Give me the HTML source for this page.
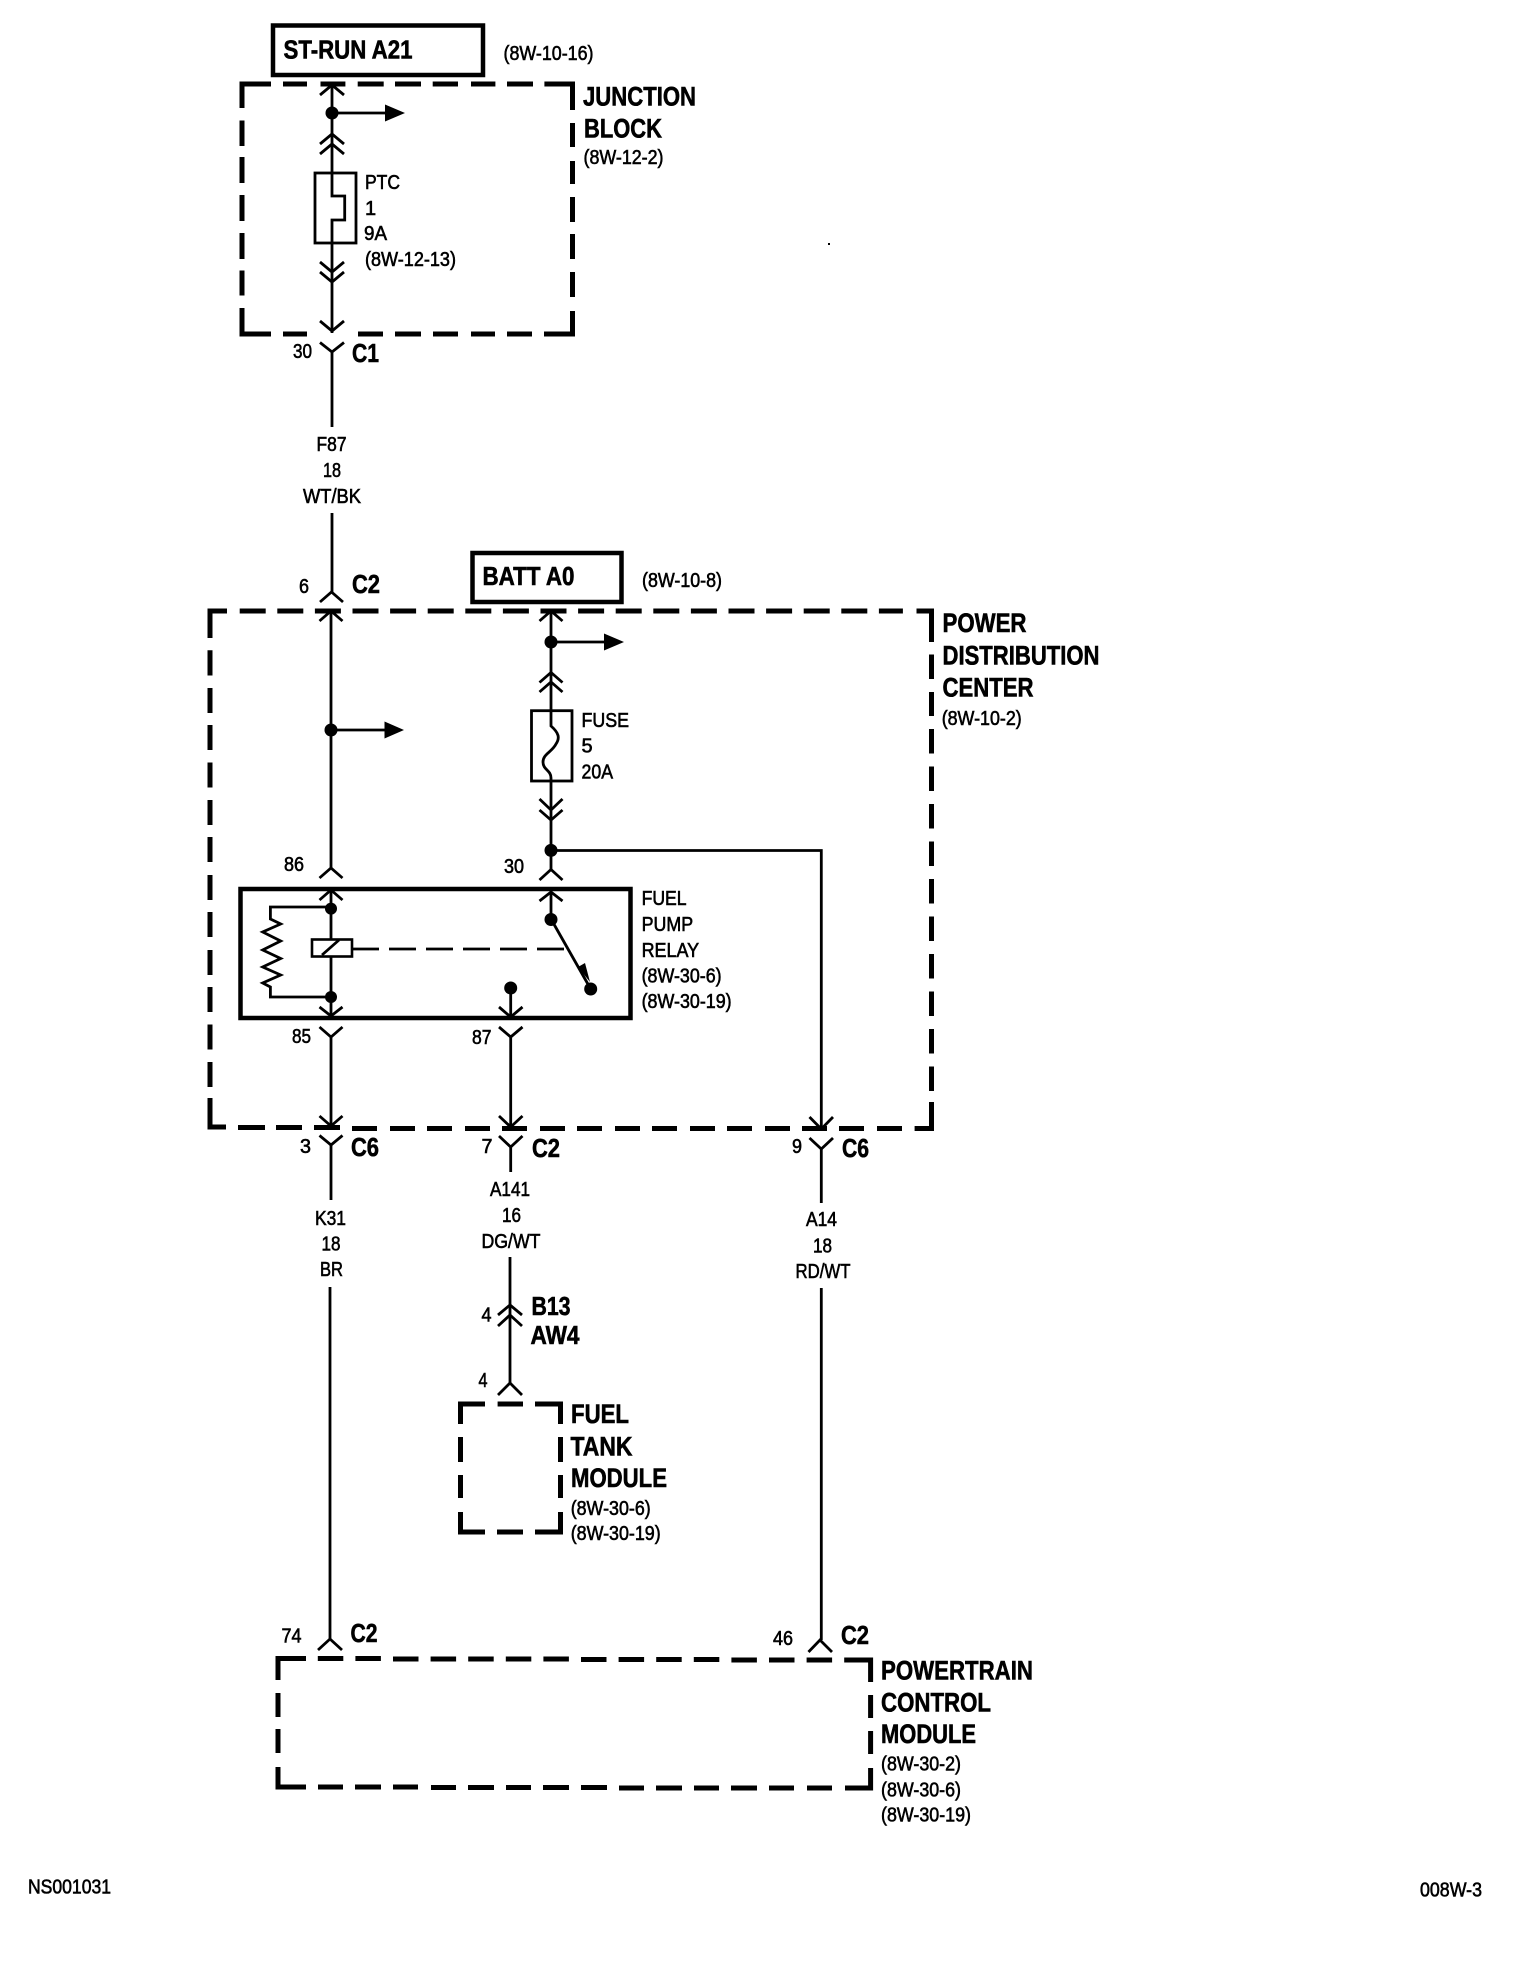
<!DOCTYPE html>
<html lang="en">
<head>
<meta charset="utf-8">
<title>Fuel Pump Relay Circuit</title>
<style>
html,body{margin:0;padding:0;background:#fff;width:1536px;height:1978px;overflow:hidden}
svg{display:block}
.w{fill:none;stroke:#000;stroke-width:2.8}
.b{fill:none;stroke:#000;stroke-width:5}
text{font-family:"Liberation Sans",sans-serif;fill:#000}
.r{font-size:20px;stroke:#000;stroke-width:.6}
.h{font-size:27px;font-weight:700;stroke:#000;stroke-width:.6}
.c{font-size:26px;font-weight:700;stroke:#000;stroke-width:.6}
</style>
</head>
<body>
<svg xmlns="http://www.w3.org/2000/svg" width="1536" height="1978" viewBox="0 0 1536 1978">
<rect width="1536" height="1978" fill="#fff"/>

<!-- solid boxes -->
<rect x="273" y="25.5" width="210" height="49.5" fill="none" stroke="#000" stroke-width="4.5"/>
<rect x="472.500" y="553" width="149" height="49" fill="none" stroke="#000" stroke-width="4.5"/>
<rect x="240.500" y="889" width="390" height="129" fill="none" stroke="#000" stroke-width="4.5"/>

<!-- Junction block dashed -->
<path class="b" d="M242 108V84H271M283 84H307M320.5 84H345.4M357.7 84H383.7M395 84H421M432.7 84H458M471 84H495.4M507 84H533M544.4 84H572.5V110M572.5 123V147M572.5 161V184M572.5 197V222M572.5 234V259M572.5 272V297M572.5 311V334H544M532 334H507M495 334H471M458 334H433M421 334H395M383 334H358M307 334H283M271 334H242V308M242 295.5V270.5M242 259V233M242 221V195M242 183V157M242 146V120.5"/>

<!-- PDC dashed -->
<path class="b" d="M210 638V611H227M239.7 611H265.7M277.3 611H303.3M314.9 611H340.9M352.5 611H378.5M390.1 611H416.1M427.7 611H453.7M465.3 611H491.3M502.9 611H528.9M540.5 611H566.5M578.1 611H604.1M615.7 611H641.7M653.3 611H679.3M690.9 611H716.9M728.5 611H754.5M766.1 611H792.1M803.7 611H829.7M841.3 611H867.3M878.9 611H902.9M916.5 611H931.5V642M931.5 654.5V679M931.5 692V716M931.5 729V753.5M931.5 766.5V791M931.5 804V828.5M931.5 841.5V866M931.5 879V903.5M931.5 916.5V941M931.5 954V978.5M931.5 991.5V1016M931.5 1029V1053.5M931.5 1066.5V1091M931.5 1102V1128.5H914.6M902 1128.5H877M864 1128.5H839M827 1128.5H802M790 1128.5H765M752 1128.5H727M715 1128.5H690M677 1128.5H652M640 1128.5H615M602 1128.5H577M565 1128.5H540M527 1128.5H502M490 1128.5H465M452 1128.5H427M415 1128.5H390M377 1128.5H352M340 1127.5H314M302 1127.5H276M265 1127.5H238M226 1127H210V1098M210 1087V1062M210 1049.5V1024.5M210 1012V987M210 975V950M210 937V912M210 900V875M210 862V837M210 825V800M210 787.5V762.5M210 750V725M210 713V688M210 675.5V650.3"/>

<!-- Fuel tank dashed -->
<path class="b" d="M460.5 1424V1404H485M497.6 1404H523M535 1404H560.5V1424M560.5 1437V1462M560.5 1475V1498M560.5 1512V1532H535M523 1532H497M485 1532H460.5V1512M460.5 1498V1475M460.5 1462V1437"/>

<!-- PCM dashed -->
<path class="b" d="M278 1680V1658.5H306M317.8 1658.5H343.3M355.4 1658.5H380.9M393 1659H418.5M430.6 1659H456.1M468.2 1659H493.7M505.8 1659H531.3M543.4 1659H568.9M581 1659.5H606.5M618.6 1659.5H644.1M656.2 1659.5H681.7M693.8 1659.5H719.3M731.4 1660H756.9M769 1660H794.5M806.6 1660H832.1M844.2 1660H870.6V1682M870.6 1695V1718M870.6 1731V1754M870.6 1768V1788H845M832 1788H807M794 1788H769M757 1788H731M719 1788H694M682 1788H656M644 1788H619M607 1787.5H581M569 1787.5H543M531 1787.5H506M494 1787.5H468M456 1787.5H431M418 1787H393M381 1787H355M343 1787H318M306 1787H278V1767M278 1753V1729M278 1717V1693"/>

<!-- Wires: left top -->
<path class="w" d="M332 84V173M332 144V196H344.7V220H332V243V333M332 352V427M332 513V592"/>
<rect class="w" x="315" y="173" width="41" height="70"/>
<path class="w" d="M320 95L332 85L344 95M320 144L332 134L344 144M320 154L332 144L344 154M320 262L332 272L344 262M320 272L332 282L344 272M320 321L332 331L344 321M320 342.5L332 352L344 342.5"/>
<path class="w" d="M320 602L331.5 592L343 602"/>
<circle cx="332" cy="113" r="6.5"/>
<path class="w" d="M332 113H386"/>
<path d="M385 104.5L405 113L385 121.5Z"/>

<!-- Wire 86 / 85 -->
<path class="w" d="M331 611V868M331 890V1016M331 1037V1126M331 1145V1200M330 1287V1639"/>
<path class="w" d="M319.5 621L331 611L342.5 621M319.5 878L331 868L342.5 878M319.5 900L331 890L342.5 900M319.5 1007L331 1016L342.5 1007M319.5 1027L331 1037L342.5 1027M319.5 1116L331 1126L342.5 1116M319.5 1135.5L331 1145L342.5 1135.5M318 1650L330 1639L342 1650"/>
<circle cx="331" cy="730" r="6.5"/>
<path class="w" d="M331 730H386"/>
<path d="M384.5 721.5L404 730L384.5 738.5Z"/>
<circle cx="331" cy="908.6" r="6"/>
<circle cx="331" cy="997" r="6"/>
<rect x="312" y="939.5" width="40" height="17" fill="#fff" stroke="#000" stroke-width="2.6"/>
<path class="w" d="M322 955L339 940"/>
<path class="w" d="M331 907H270.4V919L280.7 924L262.7 932L280.7 941L262.7 950L280.7 958.5L262.7 967L280.7 975L262.7 983L270.4 987V997H331"/>
<path class="w" d="M352 949H567" stroke-dasharray="27 10"/>

<!-- Wire 30 / fuse -->
<path class="w" d="M551 611V711M551 711V726C559 733 560 738 556 744C552 752 543 754 543 762C543 770 551 770 551 778V820V869M551 892V919M551 919L590.7 989"/>
<rect class="w" x="531.5" y="710.7" width="40.5" height="70.3"/>
<path class="w" d="M539.5 621L551 611L562.5 621M539.5 682.5L551 672.5L562.5 682.5M539.5 692L551 682L562.5 692M539.5 799L551 810L562.5 799M539.5 810L551 820L562.5 810M539.5 880L551 869.5L562.5 880M539.5 901L551 892L562.5 901"/>
<circle cx="551" cy="642" r="6.5"/>
<path class="w" d="M551 642H606"/>
<path d="M604 633.5L624 642L604 650.5Z"/>
<circle cx="551" cy="850.4" r="6.5"/>
<path class="w" d="M551 850.5H821.3V1129M821.3 1149V1203M821.3 1288V1640"/>
<path class="w" d="M809.5 1117L821.3 1129L833 1117M809.5 1138L821.3 1149L833 1138M808.5 1652L820 1640L832 1652"/>
<circle cx="551" cy="919.5" r="6.5"/>
<circle cx="590.7" cy="989" r="6.5"/>
<path d="M578 967L585 963L590 982Z"/>

<!-- Wire 87 -->
<circle cx="510.7" cy="988" r="6.5"/>
<path class="w" d="M510.7 988V1017M510.7 1037V1127M510.7 1147V1172M510 1257V1383"/>
<path class="w" d="M499 1007L510.7 1017L522.5 1007M499 1027L510.7 1037L522.5 1027M499 1116L510.7 1127L522.5 1116M499 1136L510.7 1147L522.5 1136M498 1315L510 1305L522 1315M498 1326L510 1315L522 1326M498 1395L510 1383L522 1395"/>

<!-- speck -->
<rect x="828" y="243" width="2" height="2"/>

<!-- Header labels -->
<text class="c" x="283.5" y="58.5" textLength="129" lengthAdjust="spacingAndGlyphs">ST-RUN A21</text>
<text class="r" x="503.5" y="60" textLength="90" lengthAdjust="spacingAndGlyphs">(8W-10-16)</text>
<text class="h" x="583" y="105.5" textLength="113" lengthAdjust="spacingAndGlyphs">JUNCTION</text>
<text class="h" x="584" y="137.5" textLength="78" lengthAdjust="spacingAndGlyphs">BLOCK</text>
<text class="r" x="583.5" y="164" textLength="80" lengthAdjust="spacingAndGlyphs">(8W-12-2)</text>
<text class="r" x="365" y="189" textLength="35" lengthAdjust="spacingAndGlyphs">PTC</text>
<text class="r" x="365" y="215">1</text>
<text class="r" x="364" y="240" textLength="23" lengthAdjust="spacingAndGlyphs">9A</text>
<text class="r" x="365" y="266" textLength="91" lengthAdjust="spacingAndGlyphs">(8W-12-13)</text>
<text class="r" x="293" y="358" textLength="19" lengthAdjust="spacingAndGlyphs">30</text>
<text class="c" x="352" y="362" textLength="27" lengthAdjust="spacingAndGlyphs">C1</text>
<text class="r" x="331.5" y="451" text-anchor="middle" textLength="30" lengthAdjust="spacingAndGlyphs">F87</text>
<text class="r" x="332" y="477" text-anchor="middle" textLength="18" lengthAdjust="spacingAndGlyphs">18</text>
<text class="r" x="332" y="503" text-anchor="middle" textLength="58" lengthAdjust="spacingAndGlyphs">WT/BK</text>

<text class="r" x="299" y="593" textLength="10" lengthAdjust="spacingAndGlyphs">6</text>
<text class="c" x="352" y="593" textLength="28" lengthAdjust="spacingAndGlyphs">C2</text>
<text class="c" x="482.5" y="585" textLength="92" lengthAdjust="spacingAndGlyphs">BATT A0</text>
<text class="r" x="642" y="587" textLength="80" lengthAdjust="spacingAndGlyphs">(8W-10-8)</text>

<text class="h" x="942.5" y="632" textLength="84" lengthAdjust="spacingAndGlyphs">POWER</text>
<text class="h" x="942.5" y="664.5" textLength="157" lengthAdjust="spacingAndGlyphs">DISTRIBUTION</text>
<text class="h" x="942.5" y="696.5" textLength="91" lengthAdjust="spacingAndGlyphs">CENTER</text>
<text class="r" x="941.7" y="725" textLength="80" lengthAdjust="spacingAndGlyphs">(8W-10-2)</text>

<text class="r" x="581.5" y="727" textLength="47.5" lengthAdjust="spacingAndGlyphs">FUSE</text>
<text class="r" x="581.5" y="752.5">5</text>
<text class="r" x="581.5" y="778.5" textLength="31.5" lengthAdjust="spacingAndGlyphs">20A</text>

<text class="r" x="284" y="871" textLength="20" lengthAdjust="spacingAndGlyphs">86</text>
<text class="r" x="504" y="873" textLength="20" lengthAdjust="spacingAndGlyphs">30</text>
<text class="r" x="292" y="1043" textLength="19" lengthAdjust="spacingAndGlyphs">85</text>
<text class="r" x="472" y="1044" textLength="19.5" lengthAdjust="spacingAndGlyphs">87</text>

<text class="r" x="641.6" y="905" textLength="45" lengthAdjust="spacingAndGlyphs">FUEL</text>
<text class="r" x="641.6" y="931" textLength="51.5" lengthAdjust="spacingAndGlyphs">PUMP</text>
<text class="r" x="641.6" y="957" textLength="57.5" lengthAdjust="spacingAndGlyphs">RELAY</text>
<text class="r" x="641.6" y="982.5" textLength="80" lengthAdjust="spacingAndGlyphs">(8W-30-6)</text>
<text class="r" x="641.6" y="1008" textLength="90" lengthAdjust="spacingAndGlyphs">(8W-30-19)</text>

<text class="r" x="300" y="1153" textLength="11" lengthAdjust="spacingAndGlyphs">3</text>
<text class="c" x="351" y="1156" textLength="28" lengthAdjust="spacingAndGlyphs">C6</text>
<text class="r" x="481.5" y="1153" textLength="11" lengthAdjust="spacingAndGlyphs">7</text>
<text class="c" x="532" y="1157" textLength="28" lengthAdjust="spacingAndGlyphs">C2</text>
<text class="r" x="792" y="1153" textLength="10" lengthAdjust="spacingAndGlyphs">9</text>
<text class="c" x="842" y="1157" textLength="27" lengthAdjust="spacingAndGlyphs">C6</text>

<text class="r" x="330.5" y="1225" text-anchor="middle" textLength="31" lengthAdjust="spacingAndGlyphs">K31</text>
<text class="r" x="331" y="1250.5" text-anchor="middle" textLength="19" lengthAdjust="spacingAndGlyphs">18</text>
<text class="r" x="331.5" y="1276" text-anchor="middle" textLength="23" lengthAdjust="spacingAndGlyphs">BR</text>
<text class="r" x="510" y="1196" text-anchor="middle" textLength="40" lengthAdjust="spacingAndGlyphs">A141</text>
<text class="r" x="511.5" y="1222" text-anchor="middle" textLength="19" lengthAdjust="spacingAndGlyphs">16</text>
<text class="r" x="511" y="1248" text-anchor="middle" textLength="59" lengthAdjust="spacingAndGlyphs">DG/WT</text>
<text class="r" x="821.5" y="1226" text-anchor="middle" textLength="31" lengthAdjust="spacingAndGlyphs">A14</text>
<text class="r" x="822.5" y="1252.5" text-anchor="middle" textLength="19" lengthAdjust="spacingAndGlyphs">18</text>
<text class="r" x="823" y="1278" text-anchor="middle" textLength="55" lengthAdjust="spacingAndGlyphs">RD/WT</text>

<text class="r" x="481.5" y="1321.5" textLength="10" lengthAdjust="spacingAndGlyphs">4</text>
<text class="r" x="478.5" y="1387" textLength="9" lengthAdjust="spacingAndGlyphs">4</text>
<text class="c" x="531.5" y="1315" textLength="39" lengthAdjust="spacingAndGlyphs">B13</text>
<text class="c" x="530.5" y="1344" textLength="49" lengthAdjust="spacingAndGlyphs">AW4</text>

<text class="h" x="571" y="1423" textLength="58" lengthAdjust="spacingAndGlyphs">FUEL</text>
<text class="h" x="570.5" y="1455.5" textLength="62" lengthAdjust="spacingAndGlyphs">TANK</text>
<text class="h" x="571" y="1487" textLength="96" lengthAdjust="spacingAndGlyphs">MODULE</text>
<text class="r" x="570.7" y="1515" textLength="80" lengthAdjust="spacingAndGlyphs">(8W-30-6)</text>
<text class="r" x="570.7" y="1540" textLength="90" lengthAdjust="spacingAndGlyphs">(8W-30-19)</text>

<text class="r" x="281.5" y="1642.5" textLength="20" lengthAdjust="spacingAndGlyphs">74</text>
<text class="c" x="350.5" y="1642" textLength="27" lengthAdjust="spacingAndGlyphs">C2</text>
<text class="r" x="773" y="1645" textLength="20" lengthAdjust="spacingAndGlyphs">46</text>
<text class="c" x="841" y="1644" textLength="28" lengthAdjust="spacingAndGlyphs">C2</text>

<text class="h" x="881" y="1679.5" textLength="152" lengthAdjust="spacingAndGlyphs">POWERTRAIN</text>
<text class="h" x="881" y="1711.5" textLength="110" lengthAdjust="spacingAndGlyphs">CONTROL</text>
<text class="h" x="881" y="1743" textLength="95" lengthAdjust="spacingAndGlyphs">MODULE</text>
<text class="r" x="881" y="1770.5" textLength="80" lengthAdjust="spacingAndGlyphs">(8W-30-2)</text>
<text class="r" x="881" y="1796.5" textLength="80" lengthAdjust="spacingAndGlyphs">(8W-30-6)</text>
<text class="r" x="881" y="1821.5" textLength="90" lengthAdjust="spacingAndGlyphs">(8W-30-19)</text>

<text class="r" x="28" y="1893.5" textLength="83" lengthAdjust="spacingAndGlyphs">NS001031</text>
<text class="r" x="1420" y="1896.5" textLength="62" lengthAdjust="spacingAndGlyphs">008W-3</text>
</svg>
</body>
</html>
